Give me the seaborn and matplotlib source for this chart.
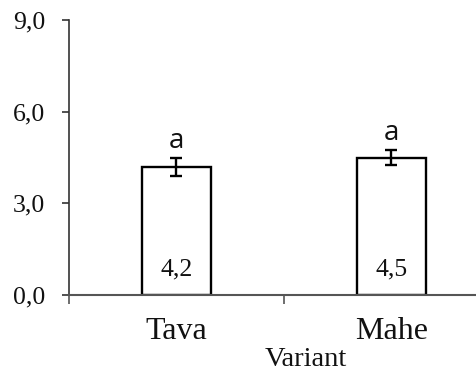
import matplotlib
matplotlib.use("Agg")
import matplotlib.pyplot as plt
import seaborn as sns
import pandas as pd
import numpy as np

# Mean values per variant with standard errors and significance letters
variants = ["Tava", "Mahe"]
means = [4.2, 4.5]
errors = [0.30, 0.24]
letters = ["a", "a"]
value_labels = ["4,2", "4,5"]
yticks = [0.0, 3.0, 6.0, 9.0]
ytick_labels = ["0,0", "3,0", "6,0", "9,0"]

df = pd.DataFrame({"Variant": variants, "Value": means})

sns.set_theme(style="white")
plt.rcParams["font.family"] = ["Liberation Serif", "DejaVu Serif"]

fig = plt.figure(figsize=(4.77, 3.73), dpi=100)
ax = fig.add_axes([69 / 477, 78 / 373, 430 / 477, 275 / 373])

sns.barplot(data=df, x="Variant", y="Value", ax=ax, width=0.325,
            color="white", edgecolor="black", linewidth=1.7,
            errorbar=None, saturation=1)

xpos = np.arange(len(variants))
ax.errorbar(xpos, means, yerr=errors, fmt="none", ecolor="black",
            elinewidth=1.7, capsize=4.5, capthick=1.7, zorder=5)

for i in range(len(variants)):
    ax.annotate(letters[i], xy=(xpos[i], means[i] + errors[i]),
                xytext=(0, 7), textcoords="offset points",
                ha="center", va="baseline", fontsize=20,
                family=["Open Sans", "DejaVu Sans"], color="#111111")
    ax.annotate(value_labels[i], xy=(xpos[i], 0), xytext=(0, 14),
                textcoords="offset points", ha="center", va="baseline",
                fontsize=18.5, color="#111111")

ax.set_xlim(-0.5, len(variants) - 0.5)
ax.set_ylim(0, 9.0)
ax.set_yticks(yticks)
ax.set_yticklabels(ytick_labels)

# category labels centred, tick marks on category boundaries
ax.set_xticks(xpos)
ax.set_xticklabels(variants)
ax.set_xticks(np.arange(len(variants) + 1) - 0.5, minor=True)
ax.tick_params(axis="x", which="major", length=0, pad=16, labelsize=23,
               labelcolor="#111111")
ax.tick_params(axis="x", which="minor", direction="out", length=6.5,
               width=1.2, color="#555555", bottom=True)
ax.tick_params(axis="y", direction="out", length=5, width=1.2,
               color="#333333", pad=12, labelsize=18.5, labelcolor="#111111",
               left=True)

ax.set_ylabel("")
ax.set_xlabel("Variant", fontsize=20.5, color="#111111")
ax.xaxis.set_label_coords((306 - 69) / 430, -0.188)

for side in ["top", "right"]:
    ax.spines[side].set_visible(False)
ax.spines["left"].set_color("#333333")
ax.spines["left"].set_linewidth(1.2)
ax.spines["bottom"].set_color("#555555")
ax.spines["bottom"].set_linewidth(1.5)
ax.set_facecolor("white")
ax.grid(False)

fig.savefig("out.png", dpi=100, facecolor="white")
